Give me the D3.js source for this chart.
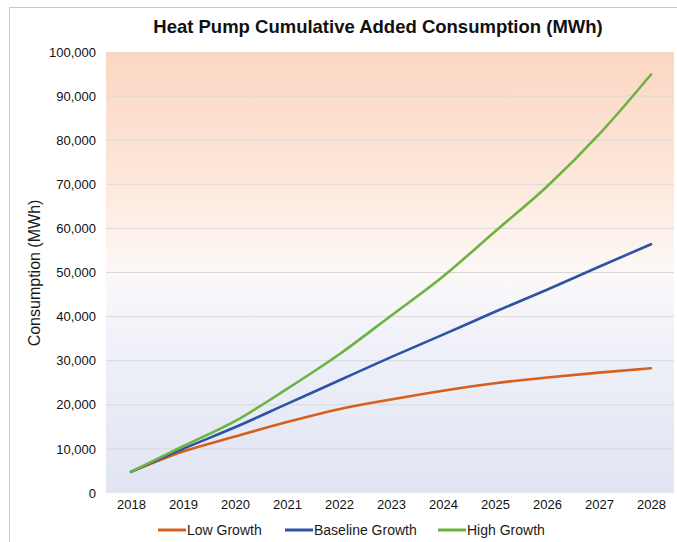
<!DOCTYPE html>
<html>
<head>
<meta charset="utf-8">
<script src="https://cdn.jsdelivr.net/npm/d3@7"></script>
<style>
  html, body { margin: 0; padding: 0; background: #ffffff; }
  svg { display: block; }
  text { font-family: "Liberation Sans", Arial, sans-serif; }
</style>
</head>
<body>
<svg id="chart" width="677" height="542"></svg>
<script>
// Years on the x axis
const years = ["2018", "2019", "2020", "2021", "2022", "2023", "2024", "2025", "2026", "2027", "2028"];

// Cumulative added consumption (MWh) per scenario
const lowGrowth      = [4800, 9400, 12800, 16100, 19000, 21200, 23200, 24900, 26200, 27300, 28300];
const baselineGrowth = [4800, 10000, 14900, 20200, 25500, 30800, 35900, 41100, 46100, 51300, 56400];
const highGrowth     = [4800, 10600, 16300, 23600, 31400, 40200, 49100, 59300, 69500, 81300, 94900];

// Y axis ticks
const yTicks = [0, 10000, 20000, 30000, 40000, 50000, 60000, 70000, 80000, 90000, 100000];

const seriesNames  = ["Low Growth", "Baseline Growth", "High Growth"];
const seriesColors = ["#d6601b", "#2d54a4", "#6db33f"];
const seriesValues = [lowGrowth, baselineGrowth, highGrowth];

const svg = d3.select("#chart");

const plot = { left: 106, right: 674, top: 52, bottom: 493 };

const x = d3.scalePoint().domain(years).range([131, 651]);
const y = d3.scaleLinear().domain([0, 100000]).range([plot.bottom, plot.top]);

// Outer frame
svg.append("rect")
  .attr("x", 9.5).attr("y", 7.5)
  .attr("width", 720).attr("height", 600)
  .attr("fill", "#ffffff")
  .attr("stroke", "#c8c8c8")
  .attr("stroke-width", 1);

// Plot background: warm at the top, cool at the bottom
const defs = svg.append("defs");
const grad = defs.append("linearGradient")
  .attr("id", "plotBg")
  .attr("x1", 0).attr("y1", 0).attr("x2", 0).attr("y2", 1);
[
  [0.00, "#fad7c2"],
  [0.15, "#fcdfcf"],
  [0.30, "#fde8dc"],
  [0.42, "#fdf2eb"],
  [0.50, "#fcf8f6"],
  [0.58, "#f5f5fa"],
  [0.75, "#ebedf7"],
  [1.00, "#e1e5f3"]
].forEach(([o, c]) => grad.append("stop").attr("offset", o).attr("stop-color", c));

svg.append("rect")
  .attr("x", plot.left).attr("y", plot.top)
  .attr("width", plot.right - plot.left)
  .attr("height", plot.bottom - plot.top)
  .attr("fill", "url(#plotBg)");

// Horizontal gridlines
svg.append("g")
  .selectAll("line")
  .data(yTicks.filter(t => t > 0 && t < 100000))
  .join("line")
  .attr("x1", plot.left).attr("x2", plot.right)
  .attr("y1", d => y(d)).attr("y2", d => y(d))
  .attr("stroke", "#d9d9d9")
  .attr("stroke-width", 1);

// Y axis labels
const yAxis = d3.axisLeft(y)
  .tickValues(yTicks)
  .tickFormat(d3.format(","))
  .tickSize(0)
  .tickPadding(0);
const gy = svg.append("g")
  .attr("transform", `translate(96,0)`)
  .call(yAxis);
gy.select(".domain").remove();
gy.selectAll("text")
  .attr("font-size", 13)
  .attr("fill", "#111")
  .style("font-family", "'Liberation Sans', Arial, sans-serif");

// X axis labels
const xAxis = d3.axisBottom(x).tickSize(0).tickPadding(0);
const gx = svg.append("g")
  .attr("transform", `translate(0,500)`)
  .call(xAxis);
gx.select(".domain").remove();
gx.selectAll("text")
  .attr("font-size", 13)
  .attr("fill", "#111")
  .style("font-family", "'Liberation Sans', Arial, sans-serif");

// Lines
const line = d3.line()
  .x((d, i) => x(years[i]))
  .y(d => y(d))
  .curve(d3.curveMonotoneX);

svg.append("g")
  .selectAll("path")
  .data(seriesValues)
  .join("path")
  .attr("d", d => line(d))
  .attr("fill", "none")
  .attr("stroke", (d, i) => seriesColors[i])
  .attr("stroke-width", 2.6)
  .attr("stroke-linecap", "round")
  .attr("stroke-linejoin", "round");

// Title
svg.append("text")
  .attr("x", 378).attr("y", 33)
  .attr("text-anchor", "middle")
  .attr("font-size", 18.5)
  .attr("font-weight", "bold")
  .attr("fill", "#111")
  .text("Heat Pump Cumulative Added Consumption (MWh)");

// Y axis title
svg.append("text")
  .attr("transform", "translate(40,273) rotate(-90)")
  .attr("text-anchor", "middle")
  .attr("font-size", 16)
  .attr("fill", "#1a1a1a")
  .text("Consumption (MWh)");

// Legend
const legendX = [158, 285, 438];
const legend = svg.append("g")
  .selectAll("g")
  .data(seriesNames)
  .join("g")
  .attr("transform", (d, i) => `translate(${legendX[i]},530)`);
legend.append("line")
  .attr("x1", 0).attr("x2", 28)
  .attr("y1", 0).attr("y2", 0)
  .attr("stroke", (d, i) => seriesColors[i])
  .attr("stroke-width", 3);
legend.append("text")
  .attr("x", 29).attr("y", 5)
  .attr("font-size", 14)
  .attr("fill", "#1a1a1a")
  .text(d => d);
</script>
</body>
</html>
